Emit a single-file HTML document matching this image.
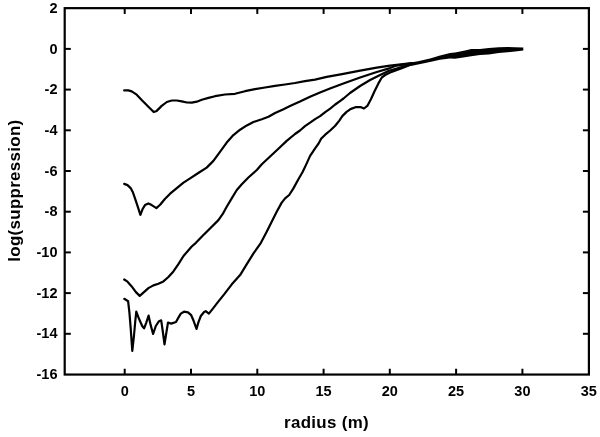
<!DOCTYPE html>
<html><head><meta charset="utf-8"><title>plot</title>
<style>
html,body{margin:0;padding:0;background:#fff;}
svg{display:block;}
text{font-family:"Liberation Sans",Arial,sans-serif;font-weight:bold;fill:#000;}
.tk text{font-size:14.5px;}
.ax{font-size:16.9px;letter-spacing:0.33px;}
</style></head><body>
<svg width="600" height="437" viewBox="0 0 600 437">
<rect width="600" height="437" fill="#fff"/>
<rect x="64.7" y="8.15" width="524.2" height="366.4" fill="none" stroke="#000" stroke-width="2.2"/>
<g stroke="#000" stroke-width="2">
<line x1="124.7" y1="374.55" x2="124.7" y2="368.75"/>
<line x1="124.7" y1="8.15" x2="124.7" y2="13.95"/>
<line x1="191.0" y1="374.55" x2="191.0" y2="368.75"/>
<line x1="191.0" y1="8.15" x2="191.0" y2="13.95"/>
<line x1="257.3" y1="374.55" x2="257.3" y2="368.75"/>
<line x1="257.3" y1="8.15" x2="257.3" y2="13.95"/>
<line x1="323.6" y1="374.55" x2="323.6" y2="368.75"/>
<line x1="323.6" y1="8.15" x2="323.6" y2="13.95"/>
<line x1="389.8" y1="374.55" x2="389.8" y2="368.75"/>
<line x1="389.8" y1="8.15" x2="389.8" y2="13.95"/>
<line x1="456.1" y1="374.55" x2="456.1" y2="368.75"/>
<line x1="456.1" y1="8.15" x2="456.1" y2="13.95"/>
<line x1="522.4" y1="374.55" x2="522.4" y2="368.75"/>
<line x1="522.4" y1="8.15" x2="522.4" y2="13.95"/>
<line x1="64.7" y1="48.9" x2="70.8" y2="48.9"/>
<line x1="588.9" y1="48.9" x2="582.9" y2="48.9"/>
<line x1="64.7" y1="89.6" x2="70.8" y2="89.6"/>
<line x1="588.9" y1="89.6" x2="582.9" y2="89.6"/>
<line x1="64.7" y1="130.3" x2="70.8" y2="130.3"/>
<line x1="588.9" y1="130.3" x2="582.9" y2="130.3"/>
<line x1="64.7" y1="171.0" x2="70.8" y2="171.0"/>
<line x1="588.9" y1="171.0" x2="582.9" y2="171.0"/>
<line x1="64.7" y1="211.7" x2="70.8" y2="211.7"/>
<line x1="588.9" y1="211.7" x2="582.9" y2="211.7"/>
<line x1="64.7" y1="252.4" x2="70.8" y2="252.4"/>
<line x1="588.9" y1="252.4" x2="582.9" y2="252.4"/>
<line x1="64.7" y1="293.1" x2="70.8" y2="293.1"/>
<line x1="588.9" y1="293.1" x2="582.9" y2="293.1"/>
<line x1="64.7" y1="333.8" x2="70.8" y2="333.8"/>
<line x1="588.9" y1="333.8" x2="582.9" y2="333.8"/>
</g>
<g class="tk">
<text x="124.7" y="395.5" text-anchor="middle">0</text>
<text x="191.0" y="395.5" text-anchor="middle">5</text>
<text x="257.3" y="395.5" text-anchor="middle">10</text>
<text x="323.6" y="395.5" text-anchor="middle">15</text>
<text x="389.8" y="395.5" text-anchor="middle">20</text>
<text x="456.1" y="395.5" text-anchor="middle">25</text>
<text x="522.4" y="395.5" text-anchor="middle">30</text>
<text x="588.7" y="395.5" text-anchor="middle">35</text>
<text x="57.5" y="12.8" text-anchor="end">2</text>
<text x="57.5" y="53.5" text-anchor="end">0</text>
<text x="57.5" y="94.2" text-anchor="end">-2</text>
<text x="57.5" y="134.9" text-anchor="end">-4</text>
<text x="57.5" y="175.6" text-anchor="end">-6</text>
<text x="57.5" y="216.3" text-anchor="end">-8</text>
<text x="57.5" y="257.0" text-anchor="end">-10</text>
<text x="57.5" y="297.7" text-anchor="end">-12</text>
<text x="57.5" y="338.4" text-anchor="end">-14</text>
<text x="57.5" y="379.2" text-anchor="end">-16</text>
</g>
<text class="ax" x="326.5" y="427.5" text-anchor="middle">radius (m)</text>
<text class="ax" transform="translate(19.8,190.6) rotate(-90)" text-anchor="middle">log(suppression)</text>
<g fill="none" stroke="#000" stroke-width="2.2" stroke-linejoin="round" stroke-linecap="round">
<polyline points="124.2,90.4 128.4,90.4 131.7,91.4 136.7,94.7 141.7,100.0 148.4,106.7 153.7,112.1 156.7,110.9 161.7,105.9 166.8,102.0 171.8,100.5 176.8,100.5 181.8,101.4 186.8,102.5 191.8,102.7 196.8,101.7 201.8,99.7 208.5,97.9 215.0,96.2 225.0,94.5 235.0,93.8 245.0,91.2 255.0,89.2 265.0,87.5 275.0,85.8 285.0,84.5 295.0,83.0 305.0,81.2 315.0,79.6 326.7,76.9 343.4,73.8 360.1,70.6 376.8,67.7 390.1,65.6 411.8,63.1"/>
<polyline points="124.2,183.9 127.5,185.1 130.9,188.4 133.0,192.6 135.0,198.4 137.5,205.9 140.4,214.8 142.5,209.3 145.0,205.1 148.4,203.4 151.7,205.1 156.4,208.1 160.1,204.8 165.1,198.7 170.1,193.7 176.8,188.1 183.5,182.6 190.1,178.4 198.3,173.0 206.7,167.6 213.4,160.9 220.0,151.8 226.7,142.6 233.4,135.1 240.1,129.7 246.8,125.4 253.4,122.0 261.8,119.2 268.5,116.7 275.1,113.0 283.5,109.2 290.0,106.0 300.0,101.5 310.0,96.7 320.0,92.4 330.0,88.5 343.4,83.5 360.1,77.5 376.8,72.0 390.1,68.1 395.0,65.9 411.8,63.4"/>
<polyline points="124.2,279.5 127.5,281.7 131.7,286.4 135.9,292.1 139.7,295.9 143.4,292.6 148.4,288.1 153.4,285.4 158.4,283.7 163.4,281.4 168.4,277.0 173.4,271.4 178.4,264.2 183.5,256.0 191.7,246.5 195.9,242.8 201.7,236.8 210.0,228.4 218.4,220.1 222.6,214.2 226.7,206.7 231.7,198.4 236.8,190.0 241.8,184.2 248.4,177.5 256.8,170.0 261.8,164.3 270.1,156.5 278.4,148.8 286.7,140.9 295.0,134.0 300.0,130.5 305.0,126.2 310.1,122.7 315.1,119.1 320.1,116.1 325.2,112.1 330.2,108.6 335.2,104.5 340.3,100.8 343.5,98.5 350.0,93.0 360.1,86.0 370.1,80.0 380.1,75.0 388.5,71.0 400.0,67.6 408.4,65.1 411.8,63.8"/>
<polyline points="124.3,298.8 128.1,301.2 129.4,312.4 130.7,328.4 132.3,350.9 133.9,336.5 135.2,322.0 136.3,311.6 139.0,318.8 142.2,326.0 144.1,328.4 146.2,322.8 148.6,315.6 150.5,324.4 153.1,334.0 155.8,326.0 159.0,321.2 161.2,320.4 162.6,330.0 164.5,344.3 166.3,333.0 168.0,322.5 171.2,323.6 176.0,322.0 178.4,317.6 180.8,313.6 184.0,311.7 188.0,312.4 191.2,315.2 193.6,320.8 196.5,328.9 198.4,322.4 200.8,316.0 204.1,312.0 205.7,311.2 208.9,313.6 212.1,309.6 217.7,302.4 224.1,294.4 231.8,284.3 240.1,275.1 246.8,264.2 253.5,253.4 260.9,242.8 266.7,231.8 271.7,221.8 276.7,211.7 281.7,202.6 285.1,198.4 289.2,195.0 293.4,188.4 298.4,179.2 302.6,172.0 305.9,165.1 310.1,155.9 315.1,148.3 318.6,143.5 321.1,138.8 325.2,134.7 330.2,130.5 335.2,125.7 339.3,120.6 342.3,116.1 346.3,112.1 350.4,109.1 355.4,107.2 361.0,107.2 364.0,108.5 367.6,105.6 370.9,99.2 374.3,91.7 378.4,83.4 381.8,77.5 385.1,75.0 390.1,72.5 401.8,68.1 411.8,64.2"/>
</g>
<polygon fill="#000" points="405.0,63.8 412.0,62.3 418.0,61.2 430.0,58.4 440.0,55.6 450.0,53.1 455.0,52.5 465.0,50.6 471.2,49.0 480.0,49.0 488.8,48.1 498.8,47.2 507.5,46.9 515.0,47.2 523.3,47.5 523.3,50.6 515.0,51.5 507.5,52.2 498.8,53.1 488.8,54.4 480.0,55.0 471.2,56.2 465.0,57.2 455.0,58.8 450.0,58.4 440.0,59.7 430.0,62.0 418.0,64.4 412.0,65.8 405.0,65.4"/>
</svg>
</body></html>
